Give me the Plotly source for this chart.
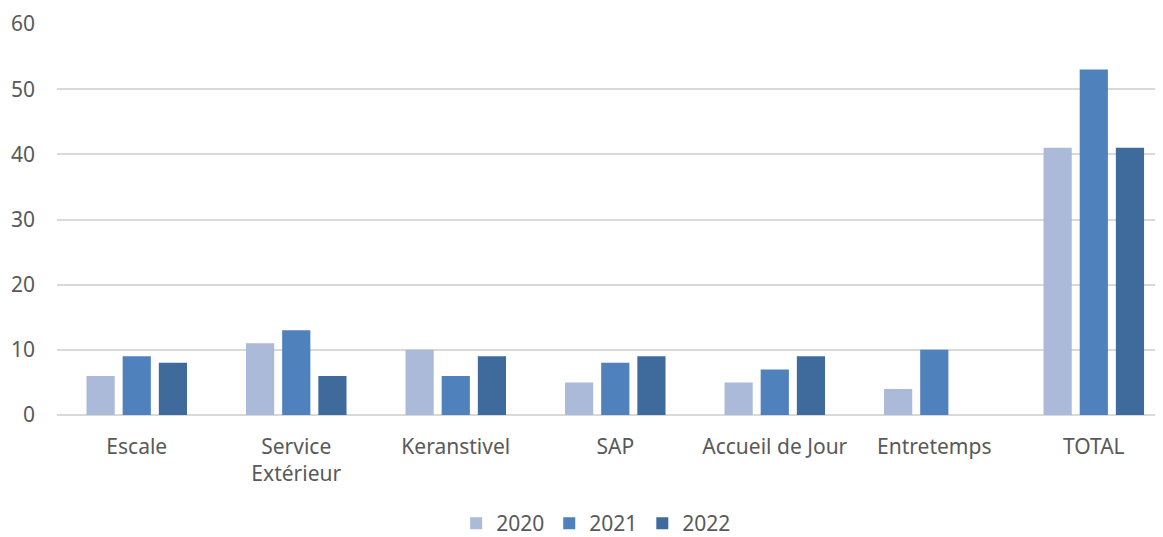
import plotly.graph_objects as go

categories = ["Escale", "Service<br>Extérieur", "Keranstivel", "SAP",
              "Accueil de Jour", "Entretemps", "TOTAL"]
years = ["2020", "2021", "2022"]
values_2020 = [6, 11, 10, 5, 5, 4, 41]
values_2021 = [9, 13, 6, 8, 7, 10, 53]
values_2022 = [8, 6, 9, 9, 9, 0, 41]

colors = ["#ABBAD8", "#4F81BD", "#3F6A9C"]
series = [values_2020, values_2021, values_2022]

fig = go.Figure()
for name, vals, col in zip(years, series, colors):
    fig.add_trace(go.Bar(
        x=categories, y=vals, name=name,
        marker=dict(color=col, line=dict(width=0)),
    ))

# the page body adds an 8px margin, so the figure margins are 8px smaller
font_color = "#595959"
fig.update_layout(
    width=1163, height=537,
    margin=dict(l=49, r=0, t=16, b=130),
    paper_bgcolor="white", plot_bgcolor="white",
    font=dict(family="Noto Sans", size=21, color=font_color),
    barmode="group", bargap=0.32, bargroupgap=0.22,
    legend=dict(orientation="h", x=0.484, xanchor="center",
                yref="container", y=0.04, yanchor="middle",
                font=dict(size=21, color=font_color),
                itemwidth=30, tracegroupgap=0),
    xaxis=dict(range=[-0.5, 6.484], showgrid=False, showline=False,
               ticks="", tickfont=dict(size=21), ticklabelstandoff=17,
               automargin=False),
    yaxis=dict(range=[0, 60], dtick=10, showgrid=True, gridcolor="#D9D9D9",
               gridwidth=1.5, zeroline=True, zerolinecolor="#D9D9D9",
               zerolinewidth=1.5, showline=False, ticks="",
               ticklabelstandoff=21, tickfont=dict(size=21), automargin=False),
)

fig.write_html("out.html")
